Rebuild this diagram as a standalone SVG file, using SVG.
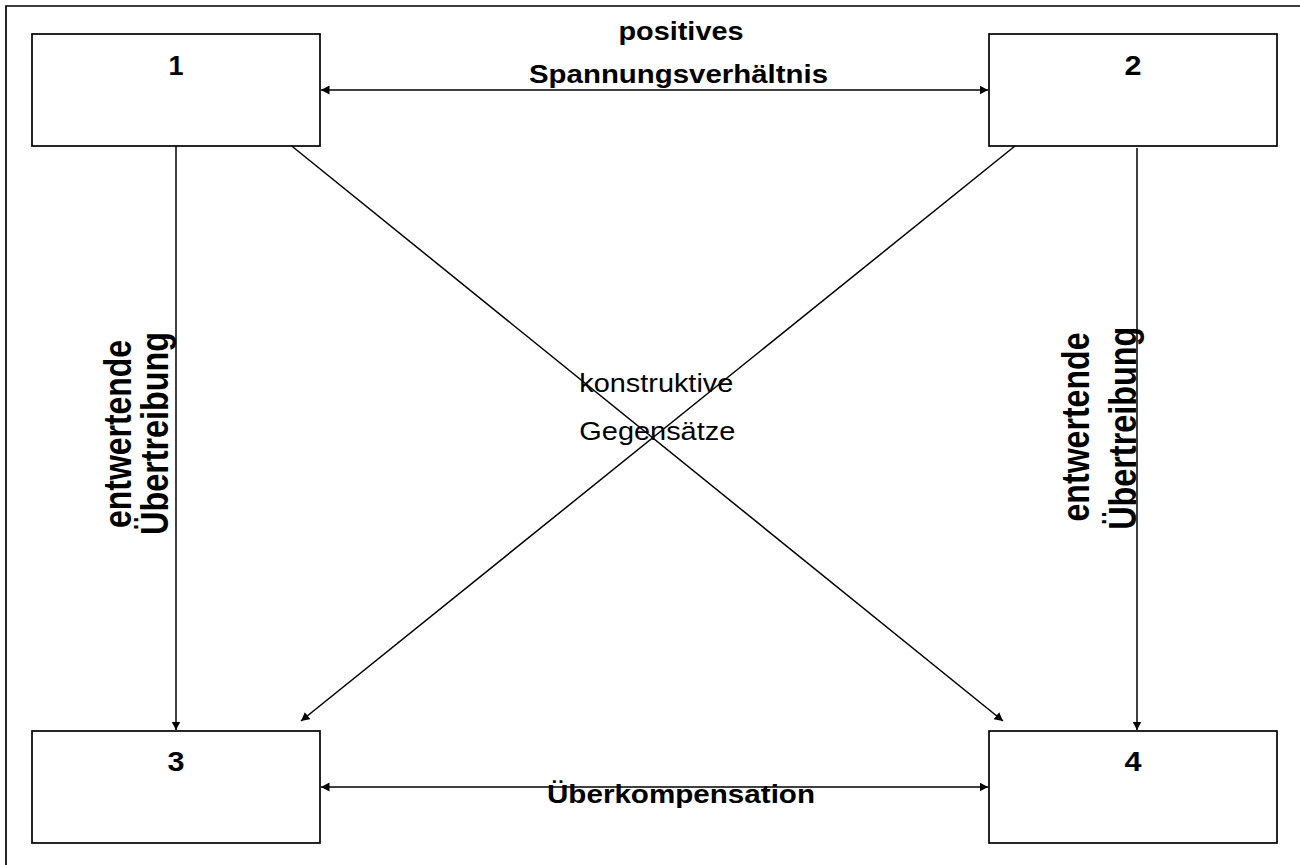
<svg xmlns="http://www.w3.org/2000/svg" width="1300" height="865" viewBox="0 0 1300 865">
  <style>
    .box { fill: #ffffff; stroke: #000000; stroke-width: 1.7; }
    .frame { fill: none; stroke: #000000; stroke-width: 1.7; }
    .conn { fill: none; stroke: #000000; stroke-width: 1.5; }
    text { font-family: "Liberation Sans", Arial, sans-serif; fill: #000000; }
    .num { font-size: 28.5px; font-weight: bold; text-anchor: middle; }
    .lbl { font-size: 26.5px; font-weight: bold; text-anchor: middle; }
    .vlbl { font-size: 32px; font-weight: bold; text-anchor: middle; }
    .reg { font-size: 26px; }
  </style>
  <defs>
    <marker id="arrow" markerUnits="userSpaceOnUse" markerWidth="10" markerHeight="10" refX="8.5" refY="4.5" orient="auto-start-reverse">
      <path d="M0,0 L8.5,4.5 L0,9 z" fill="#000000"/>
    </marker>
  </defs>

  <rect width="1300" height="865" fill="#ffffff"/>

  <!-- outer frame, open to the right and bottom -->
  <path class="frame" d="M6,870 V6 H1305"/>

  <!-- connectors -->
  <g id="connectors">
    <line class="conn" x1="321" y1="90" x2="988" y2="90" marker-start="url(#arrow)" marker-end="url(#arrow)"/>
    <line class="conn" x1="321" y1="787" x2="988" y2="787" marker-start="url(#arrow)" marker-end="url(#arrow)"/>
    <line class="conn" x1="176" y1="146" x2="176" y2="730" marker-end="url(#arrow)"/>
    <line class="conn" x1="1137" y1="148" x2="1137" y2="730" marker-end="url(#arrow)"/>
    <line class="conn" x1="291.7" y1="146" x2="1003" y2="721" marker-end="url(#arrow)"/>
    <line class="conn" x1="1015" y1="146" x2="301" y2="721" marker-end="url(#arrow)"/>
  </g>

  <!-- nodes -->
  <g id="node1">
    <rect class="box" x="32" y="34" width="288" height="112"/>
    <text class="num" x="176" y="75" textLength="15" lengthAdjust="spacingAndGlyphs">1</text>
  </g>
  <g id="node2">
    <rect class="box" x="989" y="34" width="288" height="112"/>
    <text class="num" x="1133" y="75" textLength="17" lengthAdjust="spacingAndGlyphs">2</text>
  </g>
  <g id="node3">
    <rect class="box" x="32" y="731" width="288" height="112"/>
    <text class="num" x="176" y="771" textLength="17" lengthAdjust="spacingAndGlyphs">3</text>
  </g>
  <g id="node4">
    <rect class="box" x="989" y="731" width="288" height="112"/>
    <text class="num" x="1133" y="771" textLength="17" lengthAdjust="spacingAndGlyphs">4</text>
  </g>

  <!-- connector labels -->
  <g id="labels">
    <text class="lbl" x="681" y="40" textLength="125" lengthAdjust="spacingAndGlyphs">positives</text>
    <text class="lbl" x="678.5" y="82.5" textLength="299" lengthAdjust="spacingAndGlyphs">Spannungsverhältnis</text>
    <text class="lbl" x="681" y="802.5" textLength="268" lengthAdjust="spacingAndGlyphs">Überkompensation</text>
    <text class="reg" x="579.3" y="391.7" textLength="154" lengthAdjust="spacingAndGlyphs">konstruktive</text>
    <text class="reg" x="579.3" y="440" textLength="156" lengthAdjust="spacingAndGlyphs">Gegensätze</text>

    <text class="vlbl" transform="translate(130.7,434) scale(1.2,1) rotate(-90)" textLength="188" lengthAdjust="spacingAndGlyphs">entwertende</text>
    <text class="vlbl" transform="translate(168.3,433.4) scale(1.2,1) rotate(-90)" textLength="203" lengthAdjust="spacingAndGlyphs">Übertreibung</text>
    <text class="vlbl" transform="translate(1089.3,427) scale(1.2,1) rotate(-90)" textLength="189" lengthAdjust="spacingAndGlyphs">entwertende</text>
    <text class="vlbl" transform="translate(1136,428.3) scale(1.2,1) rotate(-90)" textLength="203" lengthAdjust="spacingAndGlyphs">Übertreibung</text>
  </g>
</svg>
